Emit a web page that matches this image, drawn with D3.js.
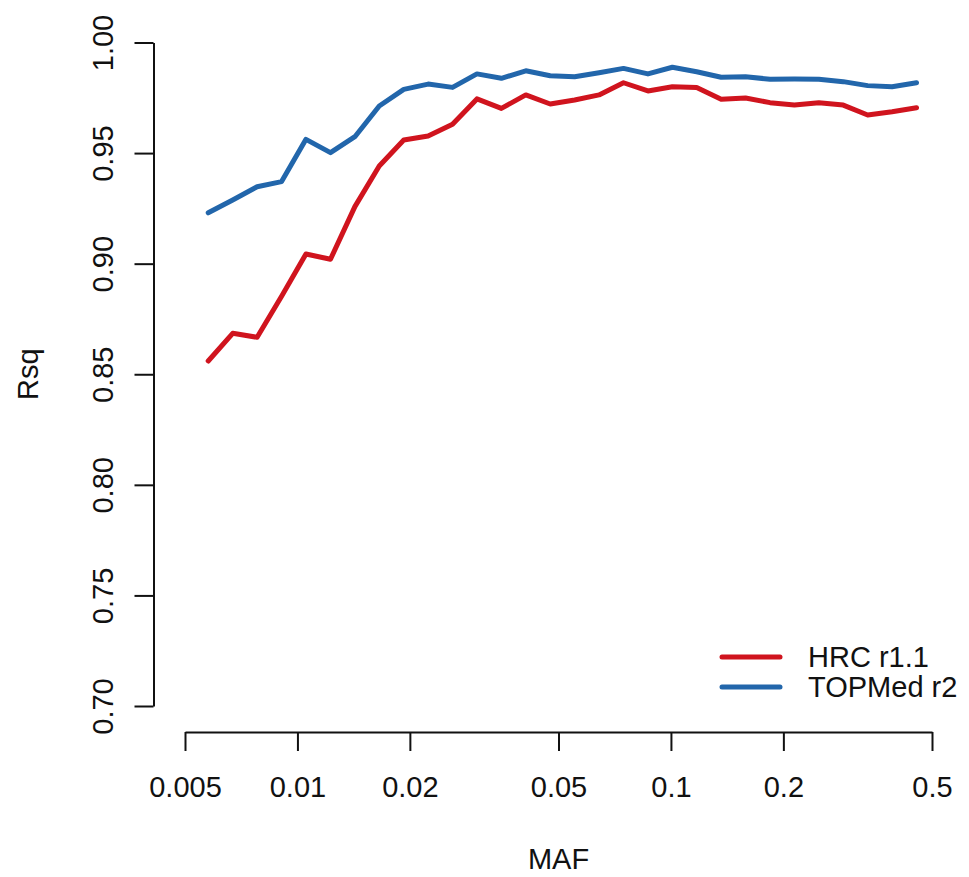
<!DOCTYPE html>
<html>
<head>
<meta charset="utf-8">
<script src="https://cdn.jsdelivr.net/npm/d3@7"></script>
<style>
  html, body { margin: 0; padding: 0; background: #ffffff; }
  svg { display: block; }
  text { font-family: "Liberation Sans", Arial, Helvetica, sans-serif; fill: #111; }
</style>
</head>
<body>
<svg id="chart" width="969" height="877"></svg>
<script>
// Minor allele frequency bin centres (log-spaced)
const maf = [0.00577, 0.00671, 0.00780, 0.00907, 0.01054, 0.01226, 0.01425, 0.01656,
             0.01926, 0.02238, 0.02602, 0.03024, 0.03516, 0.04087, 0.04751, 0.05523,
             0.06420, 0.07464, 0.08678, 0.1009, 0.1172, 0.1363, 0.1584, 0.1842,
             0.2141, 0.2489, 0.2893, 0.3363, 0.3909, 0.4545];

// Mean imputation Rsq per MAF bin
const hrcRsq = [0.8560, 0.8685, 0.8667, 0.8853, 0.9044, 0.9020, 0.9258, 0.9442,
                0.9559, 0.9577, 0.9630, 0.9745, 0.9702, 0.9763, 0.9722, 0.9740,
                0.9763, 0.9818, 0.9781, 0.9800, 0.9797, 0.9743, 0.9749, 0.9728,
                0.9717, 0.9728, 0.9717, 0.9672, 0.9687, 0.9705];
const topmedRsq = [0.9230, 0.9288, 0.9348, 0.9371, 0.9562, 0.9502, 0.9574, 0.9713,
                   0.9788, 0.9812, 0.9797, 0.9858, 0.9838, 0.9872, 0.9850, 0.9845,
                   0.9863, 0.9883, 0.9858, 0.9888, 0.9868, 0.9843, 0.9845, 0.9834,
                   0.9835, 0.9834, 0.9823, 0.9805, 0.9800, 0.9818];

const seriesNames = ["HRC r1.1", "TOPMed r2"];
const seriesColors = ["#d0141e", "#2266ab"];

const xTicks = [0.005, 0.01, 0.02, 0.05, 0.1, 0.2, 0.5];
const xTickLabels = ["0.005", "0.01", "0.02", "0.05", "0.1", "0.2", "0.5"];
const yTicks = [0.70, 0.75, 0.80, 0.85, 0.90, 0.95, 1.00];
const yTickLabels = ["0.70", "0.75", "0.80", "0.85", "0.90", "0.95", "1.00"];

const svg = d3.select("#chart");
const fontSize = 29;

const x = d3.scaleLog().domain([0.005, 0.5]).range([185, 932]);
const y = d3.scaleLinear().domain([0.70, 1.00]).range([706, 42.5]);

// Axes (base-graphics style: axis line spans first to last tick)
const xAxis = d3.axisBottom(x).tickValues(xTicks)
  .tickFormat((d, i) => xTickLabels[i]).tickSize(19).tickPadding(25).tickSizeOuter(0);
const gx = svg.append("g").attr("transform", "translate(0,732)").call(xAxis);

const yAxis = d3.axisLeft(y).tickValues(yTicks)
  .tickFormat((d, i) => yTickLabels[i]).tickSize(19).tickPadding(0).tickSizeOuter(0);
const gy = svg.append("g").attr("transform", "translate(153.5,0)").call(yAxis);

[gx, gy].forEach(g => {
  g.select(".domain").attr("stroke", "#111").attr("stroke-width", 2);
  g.selectAll(".tick line").attr("stroke", "#111").attr("stroke-width", 2);
  g.selectAll(".tick text")
    .style("font-family", '"Liberation Sans", Arial, Helvetica, sans-serif')
    .attr("font-size", fontSize).attr("fill", "#111");
});

// rotated y tick labels, reading bottom-to-top
gy.selectAll(".tick text")
  .attr("x", null).attr("dy", null)
  .attr("text-anchor", "middle")
  .attr("transform", "translate(-41,0) rotate(-90)");

gx.selectAll(".tick text").attr("dy", "0.71em");

// Axis titles
svg.append("text")
  .attr("x", (x(0.005) + x(0.5)) / 2).attr("y", 869)
  .attr("text-anchor", "middle").attr("font-size", fontSize)
  .text("MAF");
svg.append("text")
  .attr("transform", `translate(38,${(y(0.70) + y(1.00)) / 2}) rotate(-90)`)
  .attr("text-anchor", "middle").attr("font-size", fontSize)
  .text("Rsq");

// Series lines
const line = d3.line().x((d, i) => x(maf[i])).y(d => y(d));
[hrcRsq, topmedRsq].forEach((vals, k) => {
  svg.append("path")
    .datum(vals)
    .attr("fill", "none")
    .attr("stroke", seriesColors[k])
    .attr("stroke-width", 5)
    .attr("stroke-linejoin", "round")
    .attr("stroke-linecap", "round")
    .attr("d", line);
});

// Legend
const legend = svg.append("g").attr("transform", "translate(722,657)");
seriesNames.forEach((name, k) => {
  const row = legend.append("g").attr("transform", `translate(0,${k * 30})`);
  row.append("line")
    .attr("x1", 0).attr("x2", 58).attr("y1", 0).attr("y2", 0)
    .attr("stroke", seriesColors[k]).attr("stroke-width", 5)
    .attr("stroke-linecap", "round");
  row.append("text")
    .attr("x", 86).attr("y", 0).attr("dy", "0.36em")
    .attr("font-size", fontSize)
    .text(name);
});
</script>
</body>
</html>
